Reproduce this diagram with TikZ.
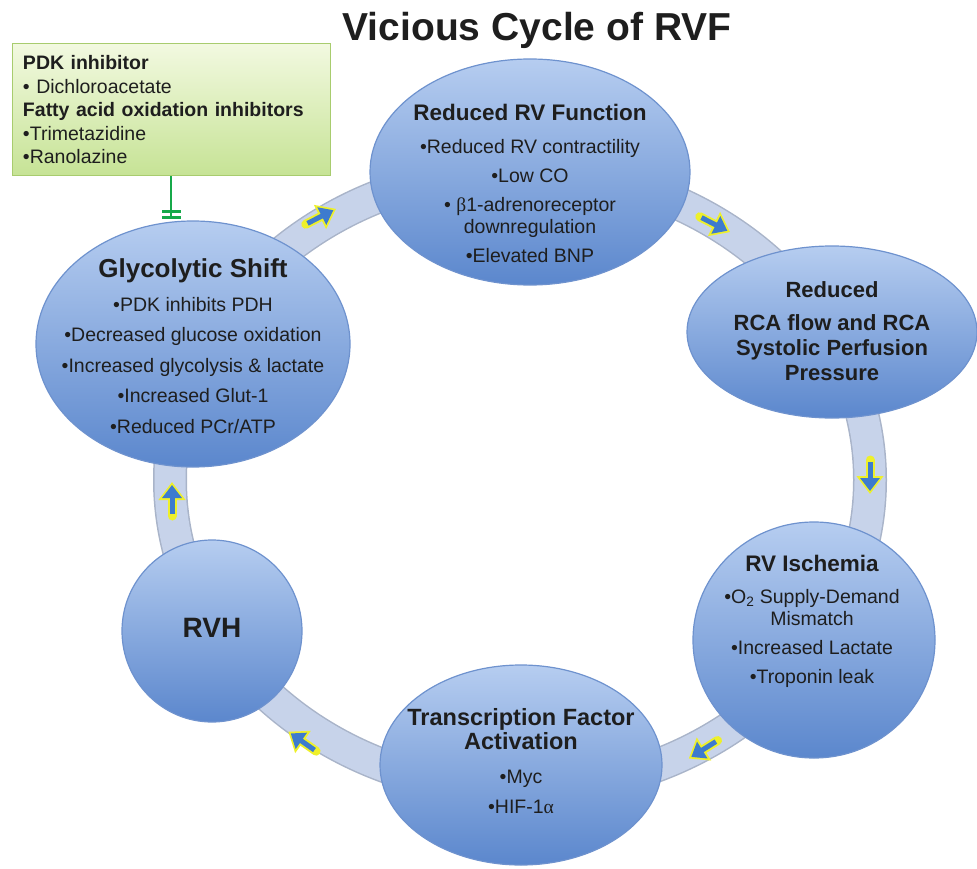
\documentclass[tikz,border=0pt]{standalone}
\usepackage{fontspec}
\setmainfont{Liberation Sans}
\newfontfamily\symfont{Liberation Serif}
\usetikzlibrary{shapes.geometric,arrows.meta}

\definecolor{stagetop}{HTML}{B6CDF0}
\definecolor{stagebot}{HTML}{5B87CD}
\definecolor{stageedge}{HTML}{6E92CE}
\definecolor{ringfill}{HTML}{C7D3EA}
\definecolor{ringedge}{HTML}{A9B4C9}
\definecolor{arrowblue}{HTML}{3D7BCE}
\definecolor{arrowglow}{HTML}{EEF02A}
\definecolor{boxtop}{HTML}{F2F9E0}
\definecolor{boxbot}{HTML}{C6E395}
\definecolor{boxedge}{HTML}{A8CC6E}
\definecolor{inhibgreen}{HTML}{16A94A}
\definecolor{ink}{HTML}{1E1E1E}

\tikzset{
  stage/.style={ellipse, draw=stageedge, line width=1.2pt, top color=stagetop,
    bottom color=stagebot, inner sep=0pt},
  stagetext/.style={align=center, text=ink, font=\fontsize{19.5}{22}\selectfont},
  arrowrim/.style={draw=arrowglow, line width=9pt, line cap=round,
    -{Triangle[length=18pt,width=26pt]}},
  arrowcore/.style={draw=arrowblue, line width=5pt, -{Triangle[length=13pt,width=19pt]}},
  inhibit/.style={draw=inhibgreen, line width=2.6pt,
    -{Bar[width=19pt,line width=3pt,sep=3pt]Bar[width=19pt,line width=3pt]}}
}

\newcommand\ringarrow[3]{%
  \begin{scope}[shift={(#1,#2)},rotate=#3]
    \draw[arrowrim] (-16,0) -- (18,0);
    \draw[arrowcore] (-14,0) -- (15,0);
  \end{scope}}

\begin{document}
\begin{tikzpicture}[x=1pt,y=-1pt]
  \useasboundingbox (0,0) rectangle (977,869);

  % ring behind the stages
  \draw[ringedge, line width=34pt] (520,480) ellipse [x radius=350pt, y radius=310pt];
  \draw[ringfill, line width=31pt] (520,480) ellipse [x radius=350pt, y radius=310pt];

  % stages
  \node[stage, minimum width=320, minimum height=226] (rvf) at (530,172) {};
  \node[stage, minimum width=290, minimum height=172] (rca) at (832,332) {};
  \node[stage, minimum width=242, minimum height=236] (isch) at (814,640) {};
  \node[stage, minimum width=282, minimum height=200] (tfa) at (521,765) {};
  \node[stage, minimum width=180, minimum height=182] (rvh) at (212,631) {};
  \node[stage, minimum width=314, minimum height=246] (glyc) at (193,344) {};

  % direction of the cycle
  \ringarrow{320}{217}{27}
  \ringarrow{714}{224}{-27}
  \ringarrow{870}{476}{-90}
  \ringarrow{704}{749}{212}
  \ringarrow{303}{742}{145}
  \ringarrow{172}{500}{90}

  \node[font=\bfseries\fontsize{39}{44}\selectfont, text=ink, anchor=base] (title) at (537,41)
    {Vicious Cycle of RVF};

  \node[stagetext] (rvf-txt) at (530,183)
    {{\bfseries\fontsize{22.5}{26}\selectfont Reduced RV Function}\\[11pt]
     •Reduced RV contractility\\[7pt]
     •Low CO\\[7pt]
     • {\symfont β}1-adrenoreceptor\\
     downregulation\\[7pt]
     •Elevated BNP};
  \node[stagetext, font=\bfseries\fontsize{22}{25}\selectfont] (rca-txt) at (832,331)
    {Reduced\\[8pt]
     RCA flow and RCA\\
     Systolic Perfusion\\
     Pressure};
  \node[stagetext] (isch-txt) at (812,621)
    {{\bfseries\fontsize{22.5}{26}\selectfont RV Ischemia}\\[10pt]
     •O\textsubscript{2} Supply-Demand\\
     Mismatch\\[7pt]
     •Increased Lactate\\[7pt]
     •Troponin leak};
  \node[stagetext] (tfa-txt) at (521,761)
    {{\bfseries\fontsize{23.5}{26}\selectfont Transcription Factor}\\[2pt]
     {\bfseries\fontsize{23.5}{26}\selectfont Activation}\\[12pt]
     •Myc\\[8pt]
     •HIF-1{\symfont α}};
  \node[stagetext, font=\bfseries\fontsize{28}{32}\selectfont] (rvh-txt) at (212,628) {RVH};
  \node[stagetext] (glyc-txt) at (193,346)
    {{\bfseries\fontsize{26}{30}\selectfont Glycolytic Shift}\\[12pt]
     •PDK inhibits PDH\\[8.5pt]
     •Decreased glucose oxidation\\[8.5pt]
     •Increased glycolysis \& lactate\\[8.5pt]
     •Increased Glut-1\\[8.5pt]
     •Reduced PCr/ATP};

  % therapy box
  \node[draw=boxedge, line width=1pt, top color=boxtop, bottom color=boxbot,
    minimum width=318, minimum height=132, text width=296, inner xsep=11pt,
    align=left, text=ink, font=\fontsize{19.5}{23.5}\selectfont] (inhib) at (171,110)
    {{\bfseries PDK inhibitor}\\
     • Dichloroacetate\\
     {\bfseries Fatty acid oxidation inhibitors}\\
     •Trimetazidine\\
     •Ranolazine};
  \coordinate (block) at (171,219);
  \draw[inhibit] (inhib.south) -- (block);
\end{tikzpicture}
\end{document}
